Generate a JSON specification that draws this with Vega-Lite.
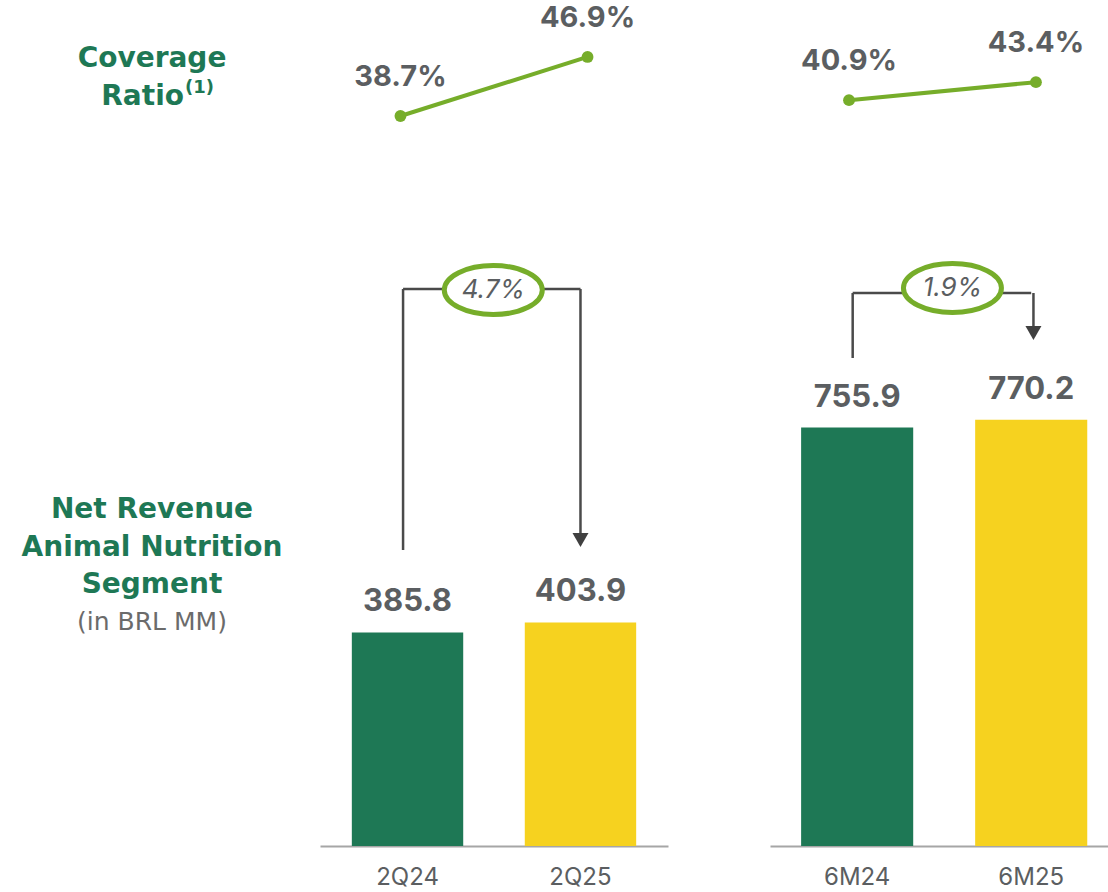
{
  "$schema": "https://vega.github.io/schema/vega-lite/v6.json",
  "background": "white",
  "padding": 0,
  "spacing": 16,
  "config": {"view": {"stroke": null}, "font": "Inter", "axis": {"grid": false}},
  "datasets": {
    "results": [
      {"group": "Quarter", "period": "2Q24", "revenue": 385.8, "coverage": 0.387},
      {"group": "Quarter", "period": "2Q25", "revenue": 403.9, "coverage": 0.469},
      {"group": "Semester", "period": "6M24", "revenue": 755.9, "coverage": 0.409},
      {"group": "Semester", "period": "6M25", "revenue": 770.2, "coverage": 0.434}
    ],
    "growth": [
      {"group": "Quarter", "from": "2Q24", "to": "2Q25", "growth": 0.047},
      {"group": "Semester", "from": "6M24", "to": "6M25", "growth": 0.019}
    ]
  },
  "hconcat": [
    {
      "width": 304,
      "height": 846,
      "data": {"values": [{}]},
      "layer": [
        {
          "mark": {"type": "text", "text": "Coverage", "font": "DejaVu Sans", "fontSize": 28, "fontWeight": "bold", "color": "#1e7855", "baseline": "alphabetic", "align": "center"},
          "encoding": {"y": {"datum": 1407.4, "type": "quantitative", "scale": {"domain": [0, 1528.5], "nice": false, "zero": false}, "axis": null}}
        },
        {
          "mark": {"type": "text", "text": "Ratio", "font": "DejaVu Sans", "fontSize": 28, "fontWeight": "bold", "color": "#1e7855", "baseline": "alphabetic", "align": "right", "dx": 32},
          "encoding": {"y": {"datum": 1338.8, "type": "quantitative"}}
        },
        {
          "mark": {"type": "text", "text": "(1)", "font": "DejaVu Sans", "fontSize": 18, "fontWeight": "bold", "color": "#1e7855", "baseline": "alphabetic", "align": "left", "dx": 33},
          "encoding": {"y": {"datum": 1360.4, "type": "quantitative"}}
        },
        {
          "mark": {"type": "text", "text": ["Net Revenue", "Animal Nutrition", "Segment"], "lineHeight": 37.5, "font": "DejaVu Sans", "fontSize": 28, "fontWeight": "bold", "color": "#1e7855", "baseline": "alphabetic", "align": "center"},
          "encoding": {"y": {"datum": 592.6, "type": "quantitative"}}
        },
        {
          "mark": {"type": "text", "text": "(in BRL MM)", "font": "DejaVu Sans", "fontSize": 25, "fontWeight": "normal", "color": "#6b6b6b", "baseline": "alphabetic", "align": "center"},
          "encoding": {"y": {"datum": 390.2, "type": "quantitative"}}
        }
      ]
    },
    {
      "spacing": 102,
      "hconcat": [
        {
          "width": 348,
          "height": 846,
          "resolve": {"scale": {"x": "independent", "y": "independent"}},
          "layer": [
            {
              "layer": [
                {
                  "data": {"name": "results"},
                  "transform": [{"filter": "datum.group === 'Quarter'"}],
                  "mark": {"type": "bar"},
                  "encoding": {
                    "x": {"field": "period", "type": "nominal", "scale": {"type": "band", "paddingInner": 0.356, "paddingOuter": 0.184},
                      "axis": {"title": null, "labelAngle": 0, "ticks": false, "domainColor": "#a6a6a6", "domainWidth": 2, "labelFontSize": 24, "labelColor": "#5b5e61", "labelPadding": 19, "labelFontWeight": "normal"}},
                    "y": {"field": "revenue", "type": "quantitative", "scale": {"domain": [0, 1528.5], "nice": false, "zero": false}, "axis": null},
                    "color": {"field": "period", "type": "nominal", "scale": {"domain": ["2Q24", "2Q25", "6M24", "6M25"], "range": ["#1e7855", "#f6d21f", "#1e7855", "#f6d21f"]}, "legend": null}
                  }
                },
                {
                  "data": {"name": "results"},
                  "transform": [{"filter": "datum.group === 'Quarter'"}],
                  "mark": {"type": "text", "dy": -30, "fontSize": 31, "fontWeight": "bold", "color": "#5b5e61", "baseline": "middle"},
                  "encoding": {
                    "x": {"field": "period", "type": "nominal"},
                    "y": {"field": "revenue", "type": "quantitative"},
                    "text": {"field": "revenue", "type": "quantitative", "format": ".1f"}
                  }
                },
                {
                  "data": {"name": "growth"},
                  "transform": [{"filter": "datum.group === 'Quarter'"}],
                  "layer": [
                    {
                      "mark": {"type": "rule", "color": "#4a4a4a", "strokeWidth": 2.5},
                      "encoding": {"x": {"field": "from", "type": "nominal", "bandPosition": 0.46}, "y": {"datum": 534.8}, "y2": {"datum": 1006.3}}
                    },
                    {
                      "mark": {"type": "rule", "color": "#4a4a4a", "strokeWidth": 2.5},
                      "encoding": {"x": {"field": "from", "type": "nominal", "bandPosition": 0.46}, "x2": {"field": "to"}, "y": {"datum": 1006.3}}
                    },
                    {
                      "mark": {"type": "rule", "color": "#4a4a4a", "strokeWidth": 2.5},
                      "encoding": {"x": {"field": "to", "type": "nominal", "bandPosition": 0.5}, "y": {"datum": 1006.3}, "y2": {"datum": 561.9}}
                    },
                    {
                      "mark": {"type": "point", "shape": "triangle-down", "filled": true, "size": 256, "color": "#404040", "opacity": 1},
                      "encoding": {"x": {"field": "to", "type": "nominal", "bandPosition": 0.5}, "y": {"datum": 552.8}}
                    },
                    {
                      "mark": {"type": "point", "shape": "M-1,0C-1,-0.276,-0.552,-0.5,0,-0.5C0.552,-0.5,1,-0.276,1,0C1,0.276,0.552,0.5,0,0.5C-0.552,0.5,-1,0.276,-1,0Z", "filled": true, "fill": "white", "stroke": "#76ad2a", "strokeWidth": 5, "size": 9604, "opacity": 1},
                      "encoding": {"x": {"field": "from", "type": "nominal", "bandPosition": 1.27}, "y": {"datum": 1004.5}}
                    },
                    {
                      "mark": {"type": "text", "fontSize": 26, "fontStyle": "italic", "color": "#5b5e61", "baseline": "middle"},
                      "encoding": {"x": {"field": "from", "type": "nominal", "bandPosition": 1.27}, "y": {"datum": 1004.5}, "text": {"field": "growth", "type": "quantitative", "format": ".1%"}}
                    }
                  ]
                }
              ]
            },
            {
              "data": {"name": "results"},
              "transform": [{"filter": "datum.group === 'Quarter'"}],
              "encoding": {
                "x": {"field": "period", "type": "nominal", "scale": {"type": "point", "padding": 0.43}, "axis": null},
                "y": {"field": "coverage", "type": "quantitative", "scale": {"domain": [-0.6269, 0.5481], "nice": false, "zero": false}, "axis": null}
              },
              "layer": [
                {"mark": {"type": "line", "color": "#76ad2a", "strokeWidth": 4, "point": {"filled": true, "size": 140, "color": "#76ad2a", "opacity": 1}}},
                {
                  "mark": {"type": "text", "dy": -39, "fontSize": 29, "fontWeight": "bold", "color": "#5b5e61", "baseline": "middle"},
                  "encoding": {"text": {"field": "coverage", "type": "quantitative", "format": ".1%"}}
                }
              ]
            }
          ]
        },
        {
          "width": 338,
          "height": 846,
          "resolve": {"scale": {"x": "independent", "y": "independent"}},
          "layer": [
            {
              "layer": [
                {
                  "data": {"name": "results"},
                  "transform": [{"filter": "datum.group === 'Semester'"}],
                  "mark": {"type": "bar"},
                  "encoding": {
                    "x": {"field": "period", "type": "nominal", "scale": {"type": "band", "paddingInner": 0.356, "paddingOuter": 0.149, "align": 0.6},
                      "axis": {"title": null, "labelAngle": 0, "ticks": false, "domainColor": "#a6a6a6", "domainWidth": 2, "labelFontSize": 24, "labelColor": "#5b5e61", "labelPadding": 19, "labelFontWeight": "normal"}},
                    "y": {"field": "revenue", "type": "quantitative", "scale": {"domain": [0, 1528.5], "nice": false, "zero": false}, "axis": null},
                    "color": {"field": "period", "type": "nominal", "scale": {"domain": ["2Q24", "2Q25", "6M24", "6M25"], "range": ["#1e7855", "#f6d21f", "#1e7855", "#f6d21f"]}, "legend": null}
                  }
                },
                {
                  "data": {"name": "results"},
                  "transform": [{"filter": "datum.group === 'Semester'"}],
                  "mark": {"type": "text", "dy": -30, "fontSize": 31, "fontWeight": "bold", "color": "#5b5e61", "baseline": "middle"},
                  "encoding": {
                    "x": {"field": "period", "type": "nominal"},
                    "y": {"field": "revenue", "type": "quantitative"},
                    "text": {"field": "revenue", "type": "quantitative", "format": ".1f"}
                  }
                },
                {
                  "data": {"name": "growth"},
                  "transform": [{"filter": "datum.group === 'Semester'"}],
                  "layer": [
                    {
                      "mark": {"type": "rule", "color": "#4a4a4a", "strokeWidth": 2.5},
                      "encoding": {"x": {"field": "from", "type": "nominal", "bandPosition": 0.46}, "y": {"datum": 881.7}, "y2": {"datum": 999.1}}
                    },
                    {
                      "mark": {"type": "rule", "color": "#4a4a4a", "strokeWidth": 2.5},
                      "encoding": {"x": {"field": "from", "type": "nominal", "bandPosition": 0.46}, "x2": {"field": "to"}, "y": {"datum": 999.1}}
                    },
                    {
                      "mark": {"type": "rule", "color": "#4a4a4a", "strokeWidth": 2.5},
                      "encoding": {"x": {"field": "to", "type": "nominal", "bandPosition": 0.52}, "y": {"datum": 999.1}, "y2": {"datum": 937.7}}
                    },
                    {
                      "mark": {"type": "point", "shape": "triangle-down", "filled": true, "size": 256, "color": "#404040", "opacity": 1},
                      "encoding": {"x": {"field": "to", "type": "nominal", "bandPosition": 0.52}, "y": {"datum": 926.8}}
                    },
                    {
                      "mark": {"type": "point", "shape": "M-1,0C-1,-0.276,-0.552,-0.5,0,-0.5C0.552,-0.5,1,-0.276,1,0C1,0.276,0.552,0.5,0,0.5C-0.552,0.5,-1,0.276,-1,0Z", "filled": true, "fill": "white", "stroke": "#76ad2a", "strokeWidth": 5, "size": 9604, "opacity": 1},
                      "encoding": {"x": {"field": "from", "type": "nominal", "bandPosition": 1.35}, "y": {"datum": 1008.1}}
                    },
                    {
                      "mark": {"type": "text", "fontSize": 26, "fontStyle": "italic", "color": "#5b5e61", "baseline": "middle"},
                      "encoding": {"x": {"field": "from", "type": "nominal", "bandPosition": 1.35}, "y": {"datum": 1008.1}, "text": {"field": "growth", "type": "quantitative", "format": ".1%"}}
                    }
                  ]
                }
              ]
            },
            {
              "data": {"name": "results"},
              "transform": [{"filter": "datum.group === 'Semester'"}],
              "encoding": {
                "x": {"field": "period", "type": "nominal", "scale": {"type": "point", "padding": 0.404, "align": 0.523}, "axis": null},
                "y": {"field": "coverage", "type": "quantitative", "scale": {"domain": [-0.6269, 0.5481], "nice": false, "zero": false}, "axis": null}
              },
              "layer": [
                {"mark": {"type": "line", "color": "#76ad2a", "strokeWidth": 4, "point": {"filled": true, "size": 140, "color": "#76ad2a", "opacity": 1}}},
                {
                  "mark": {"type": "text", "dy": -39, "fontSize": 29, "fontWeight": "bold", "color": "#5b5e61", "baseline": "middle"},
                  "encoding": {"text": {"field": "coverage", "type": "quantitative", "format": ".1%"}}
                }
              ]
            }
          ]
        }
      ]
    }
  ]
}
